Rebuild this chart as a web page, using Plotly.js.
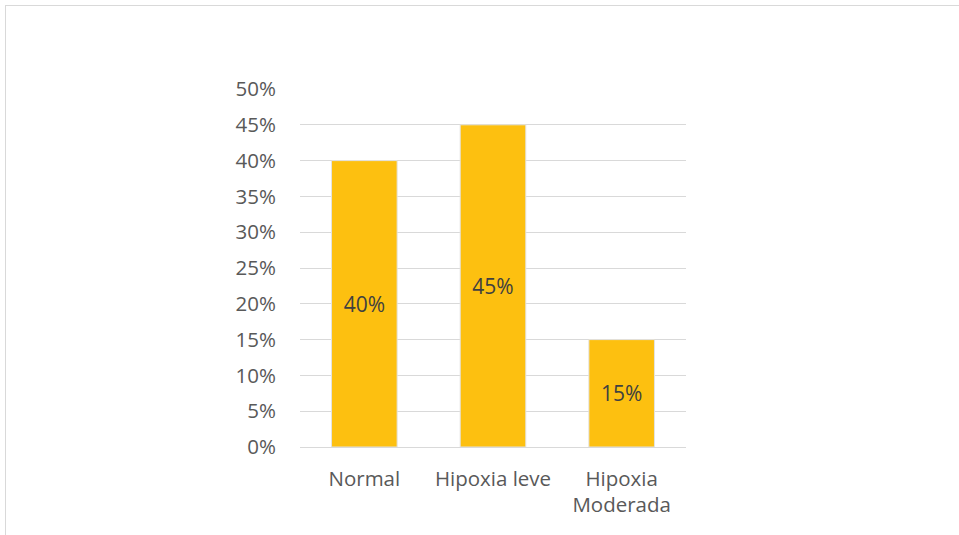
<!DOCTYPE html>
<html>
<head>
<meta charset="utf-8">
<script src="https://cdn.plot.ly/plotly-3.0.1.min.js"></script>
<style>
html,body{margin:0;padding:0;background:#fff;}
#wrap{position:relative;width:959px;height:535px;overflow:hidden;}
#frame{position:absolute;left:5px;top:5px;width:960px;height:540px;border-top:1px solid #d9d9d9;border-left:1px solid #d9d9d9;box-sizing:border-box;pointer-events:none;}
#chart{position:absolute;left:0;top:0;width:959px;height:535px;}
</style>
</head>
<body>
<div id="wrap">
<div id="chart"></div>
<div id="frame"></div>
</div>
<script>
const categories = ["Normal", "Hipoxia leve", "Hipoxia<br>Moderada"];
const values = [0.40, 0.45, 0.15];
const tickValues = [0, 0.05, 0.10, 0.15, 0.20, 0.25, 0.30, 0.35, 0.40, 0.45, 0.50];
const tickLabels = ["0%", "5%", "10%", "15%", "20%", "25%", "30%", "35%", "40%", "45%", "50%"];

const trace = {
  type: "bar",
  x: categories,
  y: values,
  marker: {color: "#FDC010", line: {color: "#e3e3e3", width: 1}},
  texttemplate: "%{y:.0%}",
  textposition: "inside",
  insidetextanchor: "middle",
  textangle: 0,
  textfont: {family: "Open Sans, sans-serif", size: 21, color: "#404040"},
  hoverinfo: "none"
};

const layout = {
  width: 959, height: 535,
  margin: {l: 300, r: 273, t: 89, b: 88},
  paper_bgcolor: "rgba(0,0,0,0)",
  plot_bgcolor: "rgba(0,0,0,0)",
  bargap: 0.49,
  showlegend: false,
  font: {family: "Open Sans, sans-serif", color: "#595959", size: 20.5},
  xaxis: {
    type: "category",
    showgrid: false,
    showline: true, linecolor: "#d9d9d9", linewidth: 1,
    ticks: "", ticklabelstandoff: 13,
    tickfont: {size: 20.5, color: "#595959"}
  },
  yaxis: {
    range: [0, 0.5],
    tickvals: tickValues,
    ticktext: tickLabels,
    showgrid: true, gridcolor: "#d9d9d9", gridwidth: 1,
    zeroline: false,
    showline: false,
    ticks: "", ticklabelstandoff: 23,
    tickfont: {size: 20.5, color: "#595959"}
  }
};

Plotly.newPlot("chart", [trace], layout, {displayModeBar: false, staticPlot: true});
</script>
</body>
</html>
